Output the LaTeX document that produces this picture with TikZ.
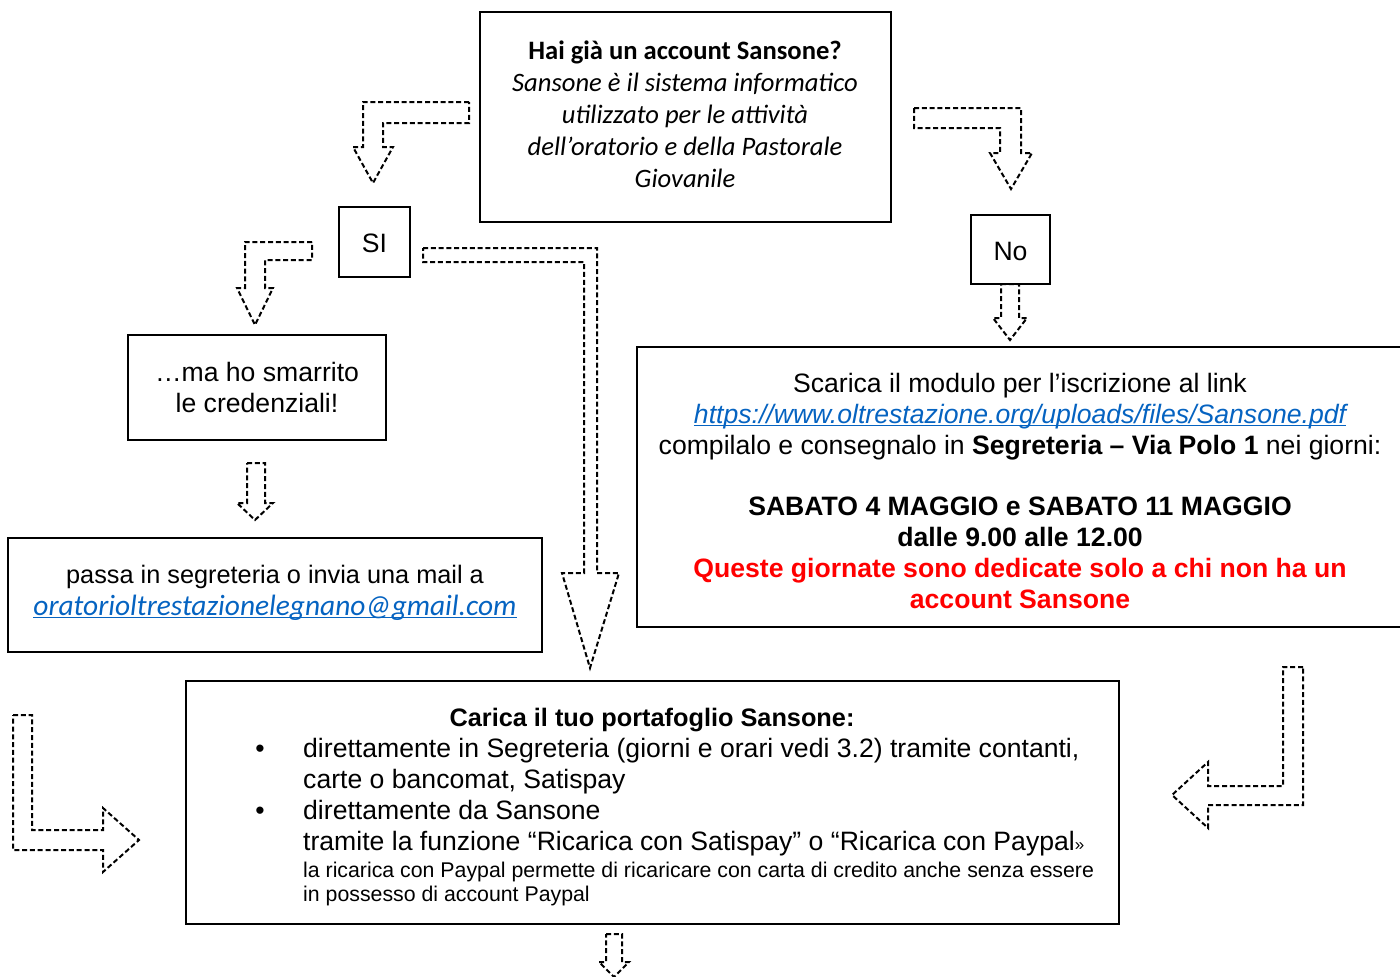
\documentclass[tikz,border=0pt]{standalone}
\usepackage{fontspec}
\setmainfont{Liberation Sans}
\newfontfamily\calibri{Carlito}
\definecolor{linkblue}{HTML}{0563C1}
\definecolor{alertred}{HTML}{FF0000}
\newcommand\linkul[1]{\setbox0\hbox{#1}\rlap{\color{linkblue}\rule[-3.2pt]{\wd0}{1.4pt}}\box0}
\begin{document}
\begin{tikzpicture}[x=1pt,y=-1pt,
  box/.style={draw=black, line width=1.3pt, inner sep=0pt},
  darrow/.style={draw=black, line width=2pt, dash pattern=on 5pt off 2.8pt, line join=miter},
  txt/.style={inner sep=0pt, font=\fontsize{26.6}{31}\selectfont, align=center},
  cal/.style={inner sep=0pt, font={\calibri\fontsize{26.6}{32}\selectfont}, align=center},
  small/.style={inner sep=0pt, font=\fontsize{21.3}{24}\selectfont, align=left},
]
\useasboundingbox (0,0) rectangle (1400,977);

% boxes
\node[box, minimum width=411pt, minimum height=210pt] (top) at (685.5,117) {};
\node[box, minimum width=71pt, minimum height=70pt] (si) at (374.5,242) {};
\node[box, minimum width=79pt, minimum height=69pt] (no) at (1010.5,249.5) {};
\node[box, minimum width=258pt, minimum height=105pt] (cred) at (257,387.5) {};
\node[box, minimum width=534pt, minimum height=114pt] (mail) at (275,595) {};
\node[box, minimum width=767pt, minimum height=280pt] (scarica) at (1020.5,487) {};
\node[box, minimum width=933pt, minimum height=243pt] (carica) at (652.5,802.5) {};

% texts (base anchor = baseline of the last line)
\node[cal, anchor=base] (toptxt) at (685,187) {\textbf{Hai già un account Sansone?}\\\textit{Sansone è il sistema informatico}\\\textit{utilizzato per le attività}\\\textit{dell’oratorio e della Pastorale}\\\textit{Giovanile}};
\node[txt, anchor=base] (sitxt) at (374.5,252.5) {SI};
\node[txt, anchor=base] (notxt) at (1010.5,260.5) {No};
\node[txt, anchor=base] (credtxt) at (257,412) {…ma ho smarrito\\le credenziali!};
\node[txt, anchor=base, font=\fontsize{25.3}{30}\selectfont] (mailtxt) at (275,583) {passa in segreteria o invia una mail a};
\node[inner sep=0pt, anchor=base, font={\calibri\itshape\fontsize{29.4}{33}\selectfont}, text=linkblue] (mailaddr) at (275,615) {\linkul{oratorioltrestazionelegnano@gmail.com}};

\node[txt, anchor=base] (scar1) at (1020,454) {Scarica il modulo per l’iscrizione al link\\{\color{linkblue}\itshape\linkul{https://www.oltrestazione.org/uploads/files/Sansone.pdf}}\\compilalo e consegnalo in \textbf{Segreteria – Via Polo 1} nei giorni:};
\node[txt, anchor=base, font=\bfseries\fontsize{26.6}{31}\selectfont] (scar2) at (1020,608) {SABATO 4 MAGGIO e SABATO 11 MAGGIO\\dalle 9.00 alle 12.00\\\textcolor{alertred}{Queste giornate sono dedicate solo a chi non ha un}\\\textcolor{alertred}{account Sansone}};

\node[txt, anchor=base, font=\bfseries\fontsize{25.3}{31}\selectfont] (cartitle) at (652,726) {Carica il tuo portafoglio Sansone:};
\node[txt, anchor=base] (bul1) at (260,757) {•};
\node[txt, anchor=base] (bul2) at (260,819) {•};
\node[txt, anchor=base west, align=left] (carlines) at (303,850) {direttamente in Segreteria (giorni e orari vedi 3.2) tramite contanti,\\carte o bancomat, Satispay\\direttamente da Sansone\\tramite la funzione “Ricarica con Satispay” o “Ricarica con Paypal{\fontsize{17}{17}\selectfont»}};
\node[small, anchor=base west] (carsmall) at (303,901) {la ricarica con Paypal permette di ricaricare con carta di credito anche senza essere\\in possesso di account Paypal};

% dashed block arrows
\draw[darrow] (469,102) -- (363,102) -- (363,147) -- (353,147) -- (373,183) -- (393,147) -- (383,147) -- (383,123) -- (469,123) -- cycle;
\draw[darrow] (914,108) -- (1021,108) -- (1021,153) -- (1032,153) -- (1011,189) -- (990,153) -- (1000,153) -- (1000,128) -- (914,128) -- cycle;
\draw[darrow] (312,242) -- (245,242) -- (245,288) -- (237,288) -- (255,325) -- (273,288) -- (265,288) -- (265,260) -- (312,260) -- cycle;
\draw[darrow] (423,248) -- (597,248) -- (597,573) -- (619,573) -- (590,668) -- (562,573) -- (584,573) -- (584,262) -- (423,262) -- cycle;
\draw[darrow] (1001,284) -- (1019,284) -- (1019,318) -- (1027,318) -- (1010,340) -- (993,318) -- (1001,318) -- cycle;
\draw[darrow] (247,463) -- (265,463) -- (265,503) -- (273,503) -- (255,520) -- (237,503) -- (247,503) -- cycle;
\draw[darrow] (13,715) -- (32,715) -- (32,830) -- (103,830) -- (103,808) -- (139,840) -- (103,872) -- (103,850) -- (13,850) -- cycle;
\draw[darrow] (1303,667) -- (1283,667) -- (1283,786) -- (1208,786) -- (1208,762) -- (1172,795) -- (1208,828) -- (1208,805) -- (1303,805) -- cycle;
\draw[darrow] (606,934) -- (622,934) -- (622,962) -- (629,962) -- (614,977) -- (599,962) -- (606,962) -- cycle;
\end{tikzpicture}
\end{document}
